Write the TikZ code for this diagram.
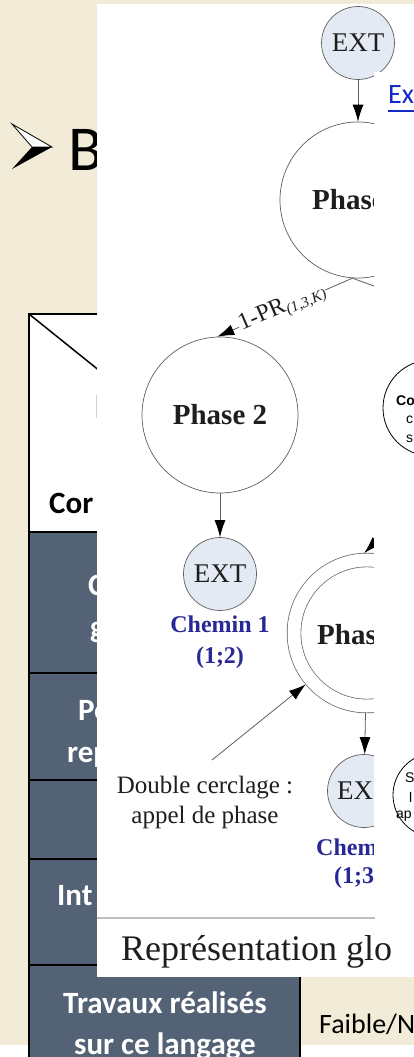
\documentclass[tikz,border=0pt]{standalone}
\usepackage{fontspec}
\setmainfont{Liberation Serif}
\newfontfamily\calfont{Carlito}
\newfontfamily\arialfont{Liberation Sans}
\usetikzlibrary{arrows.meta}
\definecolor{slidebg}{RGB}{242,235,215}
\definecolor{slate}{RGB}{84,98,117}
\definecolor{extblue}{RGB}{228,234,244}
\definecolor{chemblue}{RGB}{40,40,150}
\definecolor{linkblue}{RGB}{20,40,200}
\definecolor{diagline}{RGB}{95,95,95}
\definecolor{diagtext}{RGB}{30,30,30}
\newcommand{\fs}[1]{\fontsize{#1}{#1}\selectfont}
\tikzset{
  tline/.style={black, line width=2.5pt},
  celltext/.style={text=white, font=\calfont\bfseries\fs{31}, inner sep=0pt, anchor=base west},
  extc/.style={circle, draw=diagline, fill=extblue, line width=0.7pt, minimum size=73pt, inner sep=0pt, font=\fs{27}, text=diagtext},
  phasec/.style={circle, draw=diagline, line width=0.7pt, minimum size=156pt, inner sep=0pt, font=\bfseries\fs{29}, text=diagtext},
  dblc/.style={circle, draw=diagline, line width=0.7pt, double=white, double distance=13pt, minimum size=146pt, outer sep=7pt, inner sep=0pt},
  ptext/.style={font=\bfseries\fs{29}, text=diagtext, inner sep=0pt, anchor=west},
  arr/.style={draw=diagline, line width=0.8pt, -{Latex[length=17pt,width=11pt,color=black]}},
  chem/.style={font=\bfseries\fontsize{24}{31}\selectfont, text=chemblue, align=center, inner sep=0pt},
  smalltxt/.style={font=\arialfont\fs{14}, text=black, inner sep=0pt, anchor=west},
}
\begin{document}
\begin{tikzpicture}[x=1pt,y=-1pt]
\useasboundingbox (0,0) rectangle (414,1057);
% slide background
\fill[slidebg] (0,0) rectangle (414,1045);
\fill[white] (0,1045) rectangle (414,1057);
% bullet and title
\filldraw[fill=white, draw=black, line width=0.8pt, line join=miter] (12,124) -- (52,147) -- (32,147) -- cycle;
\fill[black] (32,147) -- (52,147) -- (12,169) -- cycle;
\node[font=\calfont\fs{64}, inner sep=0pt, anchor=base west] (title) at (68,170) {B};
% table
\fill[white] (29,314) rectangle (300,532);
\fill[slate] (29,532) rectangle (300,1057);
\draw[black, line width=1.5pt] (29,314) -- (300,532);
\foreach \yy in {532,673,780,859,965} \draw[tline] (29,\yy) -- (414,\yy);
\draw[tline] (29,1057) -- (29,314) -- (414,314);
\draw[tline] (300,314) -- (300,1057);
\draw[gray!35, line width=1pt] (96.3,395) -- (96.3,418);
\node[font=\calfont\bfseries\fs{31}, inner sep=0pt, anchor=base west] (hdr) at (49,513) {Cor};
\node[celltext] (r1a) at (88,595) {C};
\node[celltext] (r1b) at (90,637) {g};
\node[celltext] (r2a) at (78,720) {Po};
\node[celltext] (r2b) at (67,762) {rep};
\node[celltext] (r4a) at (57,905) {Int};
\node[celltext, anchor=base] (r5a) at (165,1013) {Travaux réalisés};
\node[celltext, anchor=base] (r5b) at (165,1054) {sur ce langage};
\node[font=\calfont\fs{28}, inner sep=0pt, anchor=base west] (faible) at (319,1033) {Faible/N};
% image 1
\fill[white] (97,4) rectangle (414,977);
\begin{scope}
\clip (97,4) -- (414,4) -- (414,72) -- (374,72) -- (374,920) -- (414,920) -- (414,977) -- (97,977) -- cycle;
\node[extc] (e1) at (358,43) {EXT};
\node[phasec] (p1) at (358,200) {};
\node[ptext] (p1t) at (312,200) {Phase};
\node[phasec] (p2) at (220,415) {Phase 2};
\node[extc] (e2) at (220,574) {EXT};
\node[chem] (c1) at (220,642) {Chemin 1\\(1;2)};
\node[dblc] (p3) at (367,633) {};
\node[ptext] (p3t) at (317,635) {Phas};
\node[extc] (e3) at (364,791) {};
\node[font=\fs{27}, text=diagtext, inner sep=0pt, anchor=west] (e3t) at (337,791) {EX};
\node[chem, anchor=west] (c2a) at (316,847) {Chem};
\node[chem, anchor=west] (c2b) at (334,878) {(1;3;};
\node[font=\fontsize{25}{30}\selectfont, text=diagtext, align=center, inner sep=0pt] (dc) at (205,802) {Double cerclage :\\appel de phase};
\coordinate (dcs) at (212,760);
\coordinate (r1) at (390,292);
\coordinate (inc) at (400,518);
\draw[arr] (e1) -- (p1);
\draw[arr] (p1.-94) -- node[sloped, pos=0.52, fill=white, inner sep=1pt, text=diagtext, font=\fs{24}] (lbl) {1-PR\raisebox{-4pt}{\fs{15}\itshape(1,3,K)}} (p2.92);
\draw[draw=diagline, line width=0.8pt] (p1.-94) -- (r1);
\draw[arr] (p2) -- (e2);
\draw[arr] (p3) -- (e3);
\draw[arr] (dcs) -- (p3.220);
\draw[arr] (inc) -- (p3.92);
\end{scope}
% image 2
\fill[white] (374,72) rectangle (414,920);
\begin{scope}
\clip (374,72) rectangle (414,920);
\node[font=\calfont\fs{28}, text=linkblue, inner sep=0pt, anchor=base west] (link) at (388,103) {Ex};
\draw[linkblue, line width=1.5pt] (388,111) -- (414,111);
\node[circle, draw=black, line width=0.8pt, minimum size=96pt, inner sep=0pt] (co) at (431,408) {};
\node[smalltxt, font=\arialfont\bfseries\fs{14}] (co1) at (396,401) {Co};
\node[smalltxt] (co2) at (406,420) {c};
\node[smalltxt] (co3) at (406,439) {s};
\node[circle, draw=black, line width=0.8pt, minimum size=84pt, inner sep=0pt] (sl) at (435,795) {};
\node[smalltxt] (sl1) at (405,778) {S};
\node[smalltxt] (sl2) at (409,797) {l};
\node[smalltxt] (sl3) at (396,816) {ap};
\end{scope}
% caption
\draw[gray!50, line width=2pt] (97,918) -- (375,918);
\node[font=\fs{36}, text=diagtext, inner sep=0pt, anchor=base west] (cap) at (121,960) {Représentation glo};
\end{tikzpicture}
\end{document}
